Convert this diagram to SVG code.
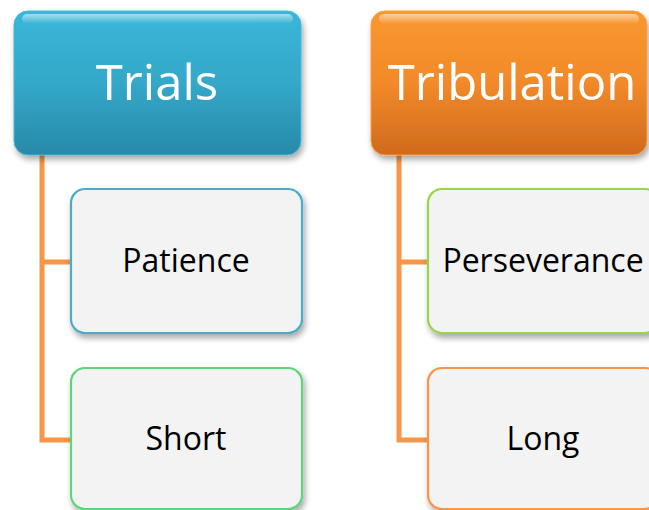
<svg xmlns="http://www.w3.org/2000/svg" width="649" height="510" viewBox="0 0 649 510">
<defs>
<linearGradient id="gBlue" x1="0" y1="0" x2="0" y2="1">
<stop offset="0" stop-color="#3ab6d8"/>
<stop offset="0.5" stop-color="#34a8c9"/>
<stop offset="1" stop-color="#2889a8"/>
</linearGradient>
<linearGradient id="gOrange" x1="0" y1="0" x2="0" y2="1">
<stop offset="0" stop-color="#f9982f"/>
<stop offset="0.5" stop-color="#f28a2a"/>
<stop offset="1" stop-color="#d06a1c"/>
</linearGradient>
<linearGradient id="gloss" x1="0" y1="0" x2="0" y2="1">
<stop offset="0" stop-color="#ffffff" stop-opacity="0.55"/>
<stop offset="1" stop-color="#ffffff" stop-opacity="0"/>
</linearGradient>
<filter id="sh" x="-10%" y="-10%" width="125%" height="130%">
<feGaussianBlur in="SourceAlpha" stdDeviation="3"/>
<feOffset dx="2" dy="4" result="b"/>
<feComponentTransfer><feFuncA type="linear" slope="0.35"/></feComponentTransfer>
<feMerge><feMergeNode/><feMergeNode in="SourceGraphic"/></feMerge>
</filter>
</defs>
<style>
.head{font-family:"Open Sans","Liberation Sans",sans-serif;font-size:49px;fill:#ffffff;text-anchor:middle}
.lbl{font-family:"Open Sans","Liberation Sans",sans-serif;font-size:32px;fill:#000000;text-anchor:middle}
.child{fill:#f3f3f3;stroke-width:2.2}
.conn{fill:none;stroke:#f79646;stroke-width:5;stroke-linejoin:miter}
</style>
<g id="connectors">
<path class="conn" d="M42,155 V440 H72 M42,262 H72"/>
<path class="conn" d="M399,155 V440 H429 M399,262 H429"/>
</g>
<g id="trials">
<rect x="14" y="11" width="287" height="144" rx="14" fill="url(#gBlue)" stroke="#45b9d9" stroke-width="1" filter="url(#sh)"/>
<rect x="22" y="14" width="271" height="10" rx="5" fill="url(#gloss)"/>
<text class="head" x="157" y="100">Trials</text>
</g>
<g id="tribulation">
<rect x="371" y="11" width="276" height="144" rx="14" fill="url(#gOrange)" stroke="#f9a040" stroke-width="1" filter="url(#sh)"/>
<rect x="379" y="14" width="260" height="10" rx="5" fill="url(#gloss)"/>
<text class="head" x="512" y="100">Tribulation</text>
</g>
<g id="patience">
<rect class="child" x="71" y="189" width="231" height="144" rx="14" stroke="#4bacc6" filter="url(#sh)"/>
<text class="lbl" x="186" y="272">Patience</text>
</g>
<g id="short">
<rect class="child" x="71" y="368" width="231" height="141" rx="14" stroke="#5fd47c" filter="url(#sh)"/>
<text class="lbl" x="186" y="450">Short</text>
</g>
<g id="perseverance">
<rect class="child" x="428" y="189" width="231" height="144" rx="14" stroke="#9bd34e" filter="url(#sh)"/>
<text class="lbl" x="543" y="272">Perseverance</text>
</g>
<g id="long">
<rect class="child" x="428" y="368" width="231" height="141" rx="14" stroke="#f79646" filter="url(#sh)"/>
<text class="lbl" x="543" y="450">Long</text>
</g>
</svg>
